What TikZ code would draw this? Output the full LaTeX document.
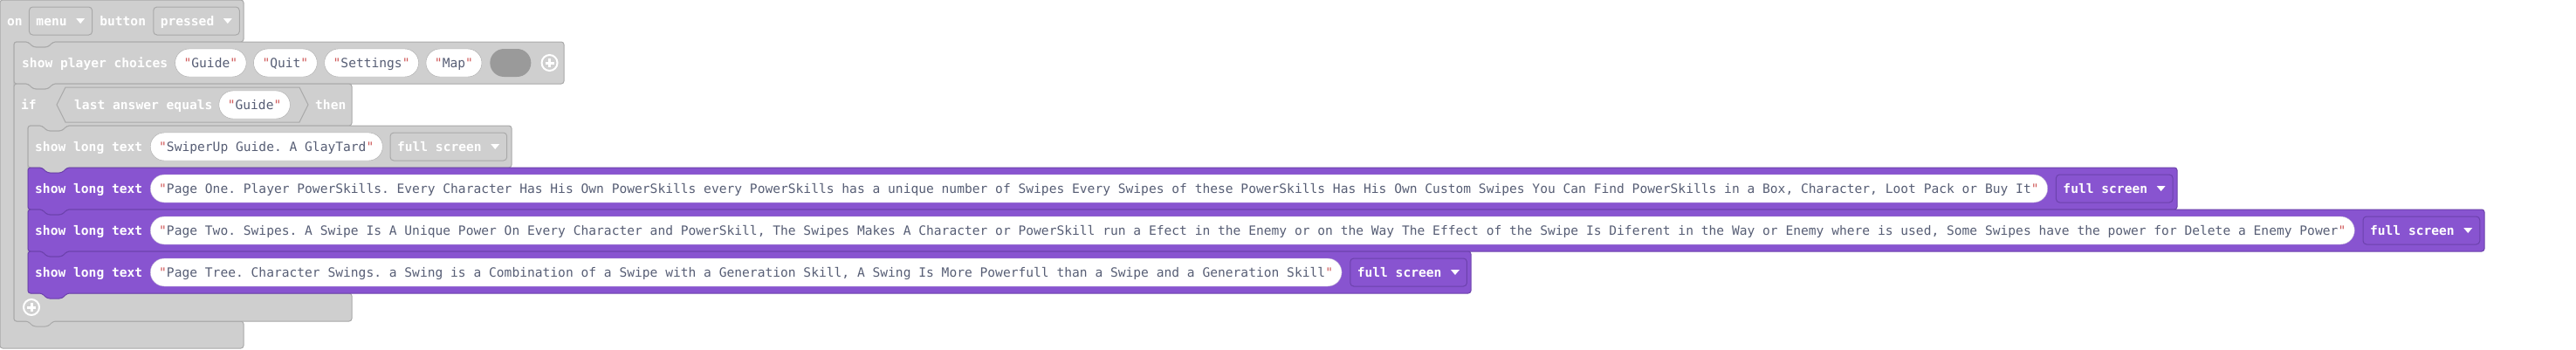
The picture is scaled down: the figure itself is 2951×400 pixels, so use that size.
\documentclass[tikz,border=0pt]{standalone}
\usepackage{fontspec}
\setmonofont{DejaVu Sans Mono}
\usepackage{xcolor}
\usetikzlibrary{positioning}

\definecolor{blockgrey}{HTML}{CFCFCF}
\definecolor{greyline}{HTML}{A9A9A9}
\definecolor{gamepurple}{HTML}{8854D0}
\definecolor{purpleline}{HTML}{6C42AC}
\definecolor{pillpurple}{HTML}{B3A2CF}
\definecolor{pilltext}{HTML}{575E75}
\definecolor{quotered}{HTML}{D05A5A}
\definecolor{emptyslot}{HTML}{9A9A9A}

% string value with its red quote marks
\newcommand{\qtext}[1]{\textcolor{quotered}{"}#1\textcolor{quotered}{"}}
% statement block: style, left, top, right, bottom
\newcommand{\stmt}[5]{\path[#1] (#2,#3) -- (#2+16,#3) -- (#2+22,#3+6) -- (#2+39,#3+6) -- (#2+45,#3) -- (#4,#3) -- (#4,#5) -- (#2+45,#5) -- (#2+39,#5+6) -- (#2+22,#5+6) -- (#2+16,#5) -- (#2,#5) -- cycle;}
% room for the arrow of a dropdown, and the arrow itself
\newcommand{\ddgap}{\rule{21pt}{0pt}}
\newcommand{\ddtri}[1]{\fill[white] ([xshift=-19pt,yshift=3pt]#1.east) -- ++(10,0) -- ++(-5,6) -- cycle;}

\begin{document}
\begin{tikzpicture}[
    x=1pt, y=-1pt,
    blk/.style={fill=blockgrey, draw=greyline, line width=1pt, rounded corners=3pt},
    pblk/.style={fill=gamepurple, draw=purpleline, line width=1pt, rounded corners=3pt},
    lbl/.style={anchor=west, inner sep=0pt, text=white, font=\fontsize{14.6}{16}\selectfont\ttfamily\bfseries, text height=10.6pt, text depth=0pt},
    pill/.style={draw=greyline, fill=white, rounded corners=16pt, minimum height=32pt, inner xsep=10pt, inner ysep=0pt, text=pilltext, font=\fontsize{14.6}{16}\selectfont\ttfamily, text height=10.6pt, text depth=0pt},
    ppill/.style={pill, draw=pillpurple},
    dd/.style={draw=greyline, line width=1pt, fill=blockgrey, rounded corners=4pt, minimum height=32pt, inner xsep=8pt, inner ysep=0pt, text=white, font=\fontsize{14.6}{16}\selectfont\ttfamily\bfseries, text height=10.6pt, text depth=0pt},
    pdd/.style={dd, draw=purpleline, fill=gamepurple},
    slot/.style={fill=emptyslot, rounded corners=16pt, minimum width=47pt, minimum height=32pt, inner sep=0pt},
    addbtn/.style={circle, draw=white, line width=2pt, minimum size=18pt, inner sep=0pt,
        path picture={\draw[white, line width=3pt] ([xshift=-5pt]path picture bounding box.center) -- ([xshift=5pt]path picture bounding box.center);
                      \draw[white, line width=3pt] ([yshift=-5pt]path picture bounding box.center) -- ([yshift=5pt]path picture bounding box.center);}},
    cond/.style={fill=blockgrey, draw=greyline, line width=1pt}
]
    \fill[white] (0,0) rectangle (2951,400);
    \useasboundingbox (0,0) rectangle (2951,400);

    % event block
    \path[blk] (0,0) -- (279,0) -- (279,48) -- (61,48) -- (55,54) -- (38,54) -- (32,48) -- (16,48) -- (16,368) -- (279,368) -- (279,399) -- (0,399) -- cycle;
    \stmt{blk}{16}{48}{646}{96}
    % if block
    \path[blk] (16,96) -- (32,96) -- (38,102) -- (55,102) -- (61,96) -- (403,96) -- (403,144) -- (77,144) -- (71,150) -- (54,150) -- (48,144) -- (32,144) -- (32,336) -- (403,336) -- (403,368) -- (61,368) -- (55,374) -- (38,374) -- (32,368) -- (16,368) -- cycle;
    \path[cond] (65,120) -- (75,100) -- (343,100) -- (353,120) -- (343,140) -- (75,140) -- cycle;
    \stmt{blk}{32}{144}{586}{192}
    \stmt{pblk}{32}{192}{2494}{240}
    \stmt{pblk}{32}{240}{2846}{288}
    \stmt{pblk}{32}{288}{1685}{336}

    % on menu button pressed
    \node [lbl] (on) at (8,24) {on};
    \node [dd, right=7pt of on] (menu) {menu\ddgap};
    \node [lbl, right=8pt of menu] (button) {button};
    \node [dd, right=8pt of button] (pressed) {pressed\ddgap};
    \ddtri{menu}
    \ddtri{pressed}

    % show player choices
    \node [lbl] (choices) at (25,72) {show player choices};
    \node [pill, right=8pt of choices] (optguide) {\qtext{Guide}};
    \node [pill, right=8pt of optguide] (optquit) {\qtext{Quit}};
    \node [pill, right=8pt of optquit] (optsettings) {\qtext{Settings}};
    \node [pill, right=8pt of optsettings] (optmap) {\qtext{Map}};
    \node [slot, right=9pt of optmap] (optempty) {};
    \node [addbtn, right=11pt of optempty] (addchoice) {};

    % if last answer equals
    \node [lbl] (if) at (24,120) {if};
    \node [lbl] (lastans) at (85,120) {last answer equals};
    \node [pill, right=7pt of lastans] (cmpguide) {\qtext{Guide}};
    \node [lbl] (then) at (361,120) {then};
    \node [addbtn] (addelse) at (36,352) {};

    % guide title
    \node [lbl] (titlelbl) at (40,168) {show long text};
    \node [pill, anchor=west] (titletxt) at (172,168) {\qtext{SwiperUp Guide. A GlayTard}};
    \node [dd, right=8pt of titletxt] (titlemode) {full screen\ddgap};
    \ddtri{titlemode}

    % pages
    \node [lbl] (pageonelbl) at (40,216) {show long text};
    \node [ppill, anchor=west] (pageone) at (172,216) {\qtext{Page One. Player PowerSkills. Every Character Has His Own PowerSkills every PowerSkills has a unique number of Swipes Every Swipes of these PowerSkills Has His Own Custom Swipes You Can Find PowerSkills in a Box, Character, Loot Pack or Buy It}};
    \node [pdd, right=9pt of pageone] (pageonemode) {full screen\ddgap};
    \ddtri{pageonemode}

    \node [lbl] (pagetwolbl) at (40,264) {show long text};
    \node [ppill, anchor=west] (pagetwo) at (172,264) {\qtext{Page Two. Swipes. A Swipe Is A Unique Power On Every Character and PowerSkill, The Swipes Makes A Character or PowerSkill run a Efect in the Enemy or on the Way The Effect of the Swipe Is Diferent in the Way or Enemy where is used, Some Swipes have the power for Delete a Enemy Power}};
    \node [pdd, right=9pt of pagetwo] (pagetwomode) {full screen\ddgap};
    \ddtri{pagetwomode}

    \node [lbl] (pagethreelbl) at (40,312) {show long text};
    \node [ppill, anchor=west] (pagethree) at (172,312) {\qtext{Page Tree. Character Swings. a Swing is a Combination of a Swipe with a Generation Skill, A Swing Is More Powerfull than a Swipe and a Generation Skill}};
    \node [pdd, right=9pt of pagethree] (pagethreemode) {full screen\ddgap};
    \ddtri{pagethreemode}
\end{tikzpicture}
\end{document}
